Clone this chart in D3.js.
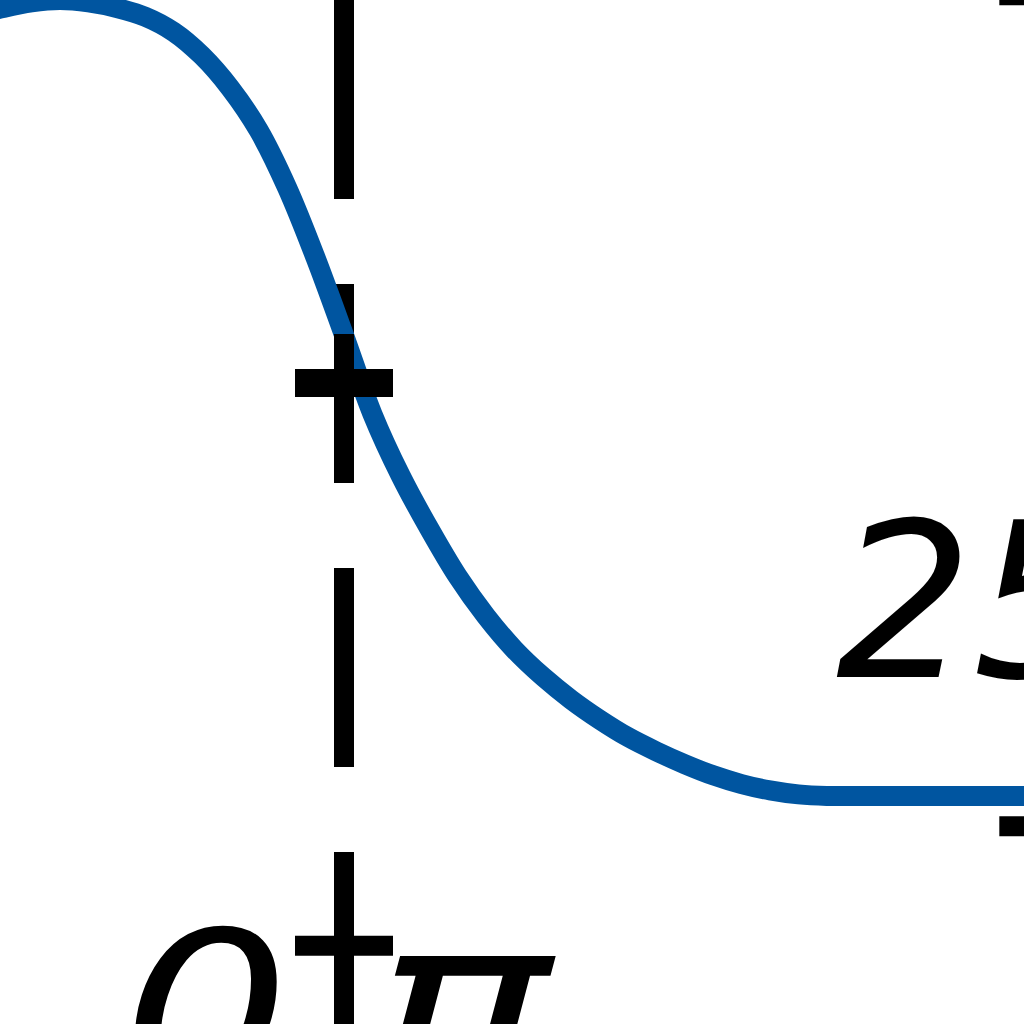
<!DOCTYPE html>
<html>
<head>
<meta charset="utf-8">
<script src="https://cdn.jsdelivr.net/npm/d3@7"></script>
<style>
  body { margin: 0; background: #fff; }
  svg { display: block; }
</style>
</head>
<body>
<div id="chart"></div>
<script>
// curve
const curveX = [-0.3, -0.2, -0.1, 0, 0.1, 0.2, 0.3, 0.4, 0.5, 0.6, 0.7, 0.8, 0.9, 1.0,
  1.1, 1.2, 1.3, 1.4, 1.5, 1.6, 1.7, 1.8, 1.9, 2.0, 2.1, 2.2, 2.3, 2.4, 2.5, 2.6,
  2.7, 2.8, 3.0, 3.2, 3.5];
const curveY = [0.981, 0.990, 0.997, 1.0, 0.997, 0.990, 0.979, 0.960, 0.930, 0.889,
  0.836, 0.764, 0.676, 0.579, 0.480, 0.402, 0.336, 0.276, 0.226, 0.184, 0.150,
  0.121, 0.096, 0.074, 0.056, 0.040, 0.026, 0.015, 0.007, 0.002, 0, 0, 0, 0, 0];

// "+" markers
const markerX = [1.0, 1.0, 3.48, 3.48];
const markerY = [0.519, -0.188, -0.038, 1.006];

// dashed guide
const guideX = 1.0;
const guideRange = [1.0, -0.6];

// text labels
const labelText = ["25", "0", "π"];
const labelX = [2.732, 0.514, 1.102];
const labelY = [0.149, -0.368, -0.352];

const width = 1024;
const height = 1024;
const blue = "#0055a0";

const x = d3.scaleLinear().domain([0, 1]).range([60, 344]);
const y = d3.scaleLinear().domain([0, 1]).range([796, 0]);

const svg = d3.select("#chart")
    .append("svg")
    .attr("width", width)
    .attr("height", height)
    .style("background-color", "#fff");

svg.append("line")
    .attr("x1", x(guideX))
    .attr("x2", x(guideX))
    .attr("y1", y(guideRange[0]))
    .attr("y2", y(guideRange[1]))
    .attr("stroke", "#000")
    .attr("stroke-width", 20)
    .attr("stroke-dasharray", "199,85");

const line = d3.line()
    .x((d, i) => x(curveX[i]))
    .y(d => y(d))
    .curve(d3.curveCatmullRom.alpha(0.5));

svg.append("path")
    .datum(curveY)
    .attr("fill", "none")
    .attr("stroke", blue)
    .attr("stroke-width", 20)
    .attr("d", line);

const arm = 49;
const markers = svg.append("g")
    .selectAll("g")
    .data(markerX.map((d, i) => [d, markerY[i]]))
    .join("g")
    .attr("transform", d => `translate(${x(d[0])},${y(d[1])})`);

markers.append("line")
    .attr("x1", -arm).attr("x2", arm)
    .attr("stroke", "#000")
    .attr("stroke-width", (d, i) => i == 0 ? 28 : 20);

markers.append("line")
    .attr("y1", -arm).attr("y2", arm)
    .attr("stroke", "#000")
    .attr("stroke-width", 20);

// labels; the bottom ones sit wider than the stock oblique face
const stretch = [1, 1.2, 1.35];
svg.append("g")
    .selectAll("g")
    .data(labelText)
    .join("g")
    .attr("transform", (d, i) => `translate(${x(labelX[i])},${y(labelY[i])}) scale(${stretch[i]},1)`)
    .append("text")
    .attr("text-anchor", (d, i) => i == 1 ? "middle" : "start")
    .style("font-family", "'DejaVu Sans', sans-serif")
    .style("font-style", "italic")
    .style("font-size", (d, i) => i == 0 ? "215px" : "220px")
    .text(d => d);
</script>
</body>
</html>
